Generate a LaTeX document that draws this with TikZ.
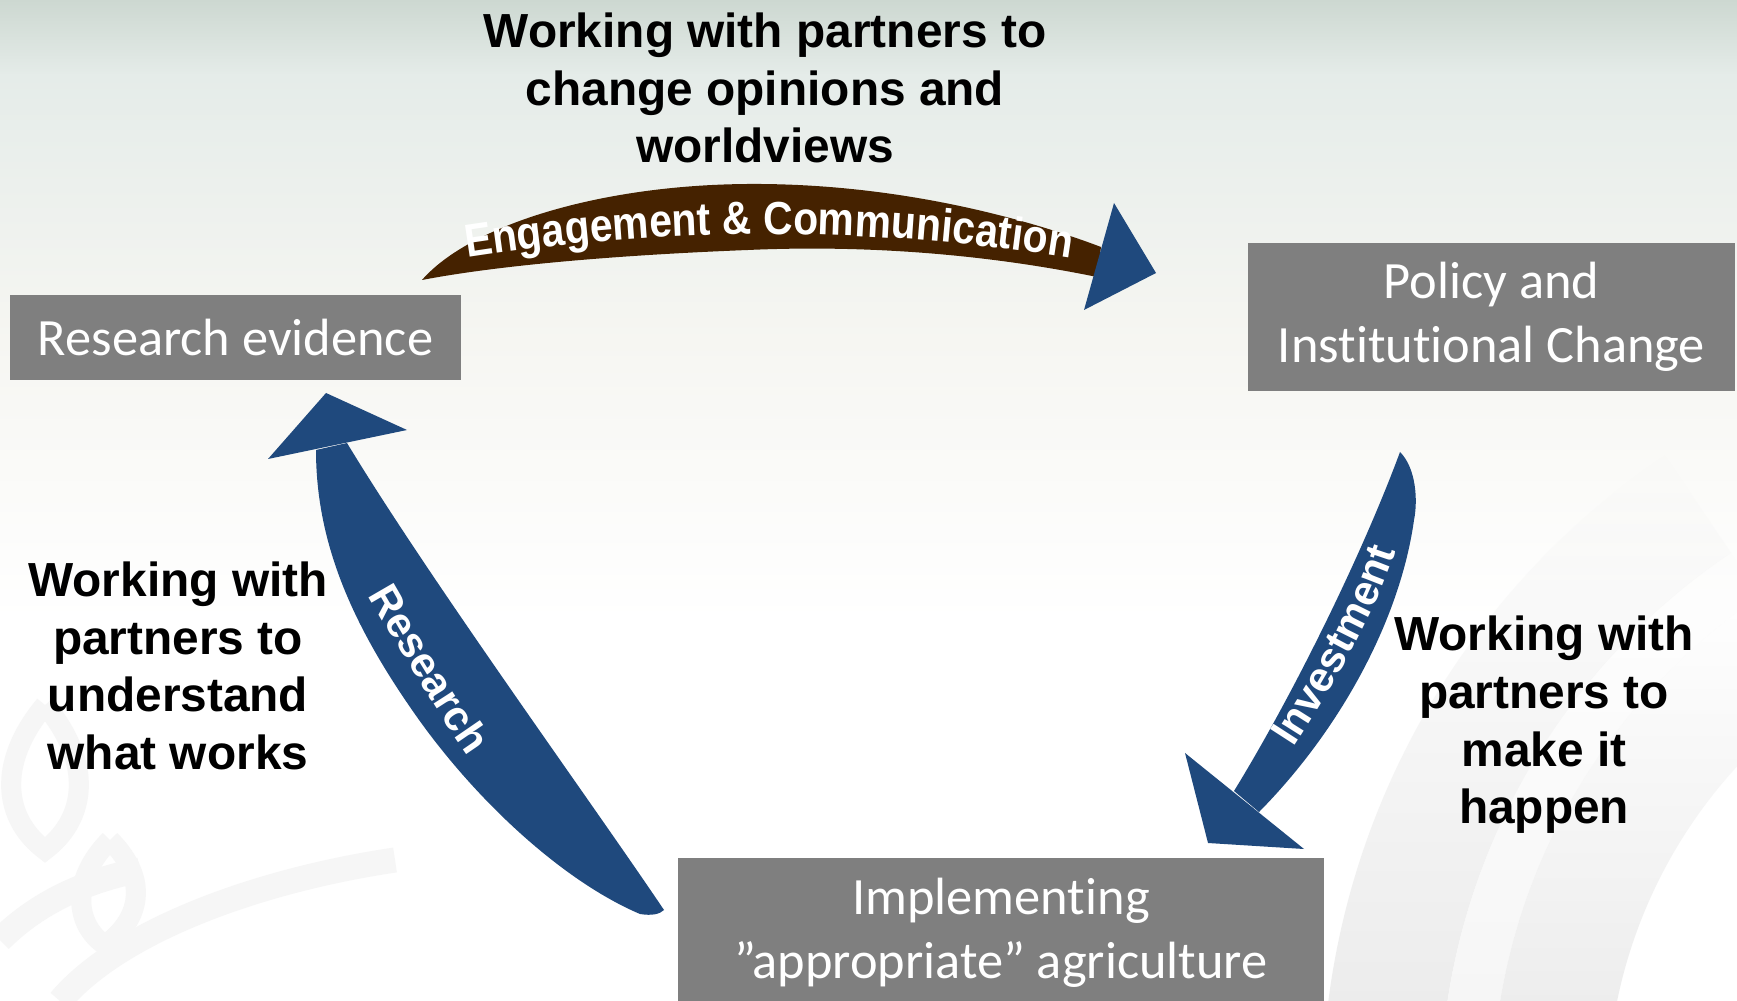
\documentclass[tikz,border=0pt]{standalone}
\usepackage{fontspec}
\setmainfont{Carlito}[Ligatures=NoCommon]
\newfontfamily\tagfont{Liberation Sans}
\newfontfamily\archfont{Liberation Sans}[FakeStretch=0.88]
\usetikzlibrary{decorations.text,fadings}

\definecolor{boxgray}{RGB}{127,127,127}
\definecolor{arrowblue}{RGB}{31,73,125}
\definecolor{arrowbrown}{RGB}{69,34,0}
\definecolor{skytop}{RGB}{205,216,209}
\definecolor{skymid}{RGB}{229,236,233}
\definecolor{skylow}{RGB}{246,246,242}
\definecolor{markgray}{RGB}{236,236,236}
\definecolor{leafgray}{RGB}{246,246,246}

\newcommand{\wordart}{\tagfont\bfseries\fontsize{12}{14}\selectfont}
\newcommand{\archart}{\archfont\bfseries\fontsize{13.2}{15}\selectfont}

\tikzset{
  stage/.style={fill=boxgray, text=white, align=center, inner sep=0pt,
    font=\fontsize{14.9}{18.2}\selectfont},
  note/.style={font=\tagfont\bfseries\fontsize{13.6}{16.4}\selectfont, align=center},
  bandtext/.style={decorate, decoration={text along path, text align=center,
    text color=white, text={#1}}},
}

\begin{document}
\begin{tikzpicture}[x=0.01cm, y=-0.01cm]
\useasboundingbox (0,0) rectangle (1737,1001);

\shade[top color=skytop, bottom color=skymid] (0,0) rectangle (1737,76);
\shade[top color=skymid, bottom color=skylow] (0,75) rectangle (1737,341);
\shade[top color=skylow, bottom color=white] (0,340) rectangle (1737,621);
\fill[white] (0,620) rectangle (1737,1001);

\foreach \ra/\rb/\sh in {778/660/100, 660/608/45, 608/493/100} {
\fill[markgray!\sh, path fading=north] ([shift={(187:\ra)}]2100,1100) arc[start angle=187, end angle=236, radius=\ra]
  -- ([shift={(236:\rb)}]2100,1100) arc[start angle=236, end angle=187, radius=\rb] -- cycle;
}
\draw[leafgray, line width=0.2cm] (45,705) .. controls (-5,765) and (5,820) .. (45,850)
  .. controls (85,820) and (95,765) .. (45,705);
\draw[leafgray, line width=0.2cm] (110,840) .. controls (70,880) and (75,925) .. (105,945)
  .. controls (140,920) and (150,880) .. (110,840);
\draw[leafgray, line width=0.25cm] (60,1001) .. controls (120,930) and (260,880) .. (395,860);
\draw[leafgray, line width=0.25cm] (0,940) .. controls (40,900) and (90,880) .. (140,870);

\node[stage, minimum width=4.51cm, minimum height=0.85cm] (research) at (235.5,337.5) {Research evidence};
\node[stage, minimum width=4.87cm, minimum height=1.48cm] (policy) at (1491.5,317) {Policy and\\Institutional Change};
\node[stage, minimum width=6.46cm, minimum height=1.50cm] (implement) at (1001,933) {Implementing\\”appropriate” agriculture};

\fill[arrowbrown] (422,280) .. controls (470,225) and (600,185) .. (748,184)
  .. controls (900,183) and (1030,220) .. (1101,247) -- (1097,277)
  .. controls (980,253) and (860,245) .. (748,250)
  .. controls (620,255) and (500,265) .. (422,280) -- cycle;
\fill[arrowblue] (1114,203) -- (1156,273) -- (1084,310) -- cycle;

\fill[arrowblue] (316,450) .. controls (316,540) and (350,620) .. (410,707)
  .. controls (470,795) and (560,880) .. (640,914)
  .. controls (652,916) and (660,914) .. (664,910)
  .. controls (590,800) and (430,580) .. (347,443) -- cycle;
\fill[arrowblue] (326,393) -- (407,430) -- (268,459) -- cycle;

\fill[arrowblue] (1400,452) .. controls (1416,468) and (1418,500) .. (1414,520)
  .. controls (1400,620) and (1340,730) .. (1259,812) -- (1234,791)
  .. controls (1290,700) and (1360,560) .. (1400,452) -- cycle;
\fill[arrowblue] (1185,753) -- (1304,849) -- (1208,843) -- cycle;

\path[bandtext={|\archart|Engagement {\&} Communication}] (392,271) .. controls (645,222) and (895,222) .. (1146,271);
\path[bandtext={|\wordart|Research}] (345,554) .. controls (373,606) and (450,738) .. (497,794);
\path[bandtext={|\wordart|Investment}] (1274,777) .. controls (1314,717) and (1389,602) .. (1404,517);

\node[note] (topnote) at (765,88) {Working with partners to\\change opinions and\\worldviews};
\node[note] (leftnote) at (178,666) {Working with\\partners to\\understand\\what works};
\node[note] (rightnote) at (1544,725) {Working with\\partners to\\make it\\happen};
\end{tikzpicture}
\end{document}
